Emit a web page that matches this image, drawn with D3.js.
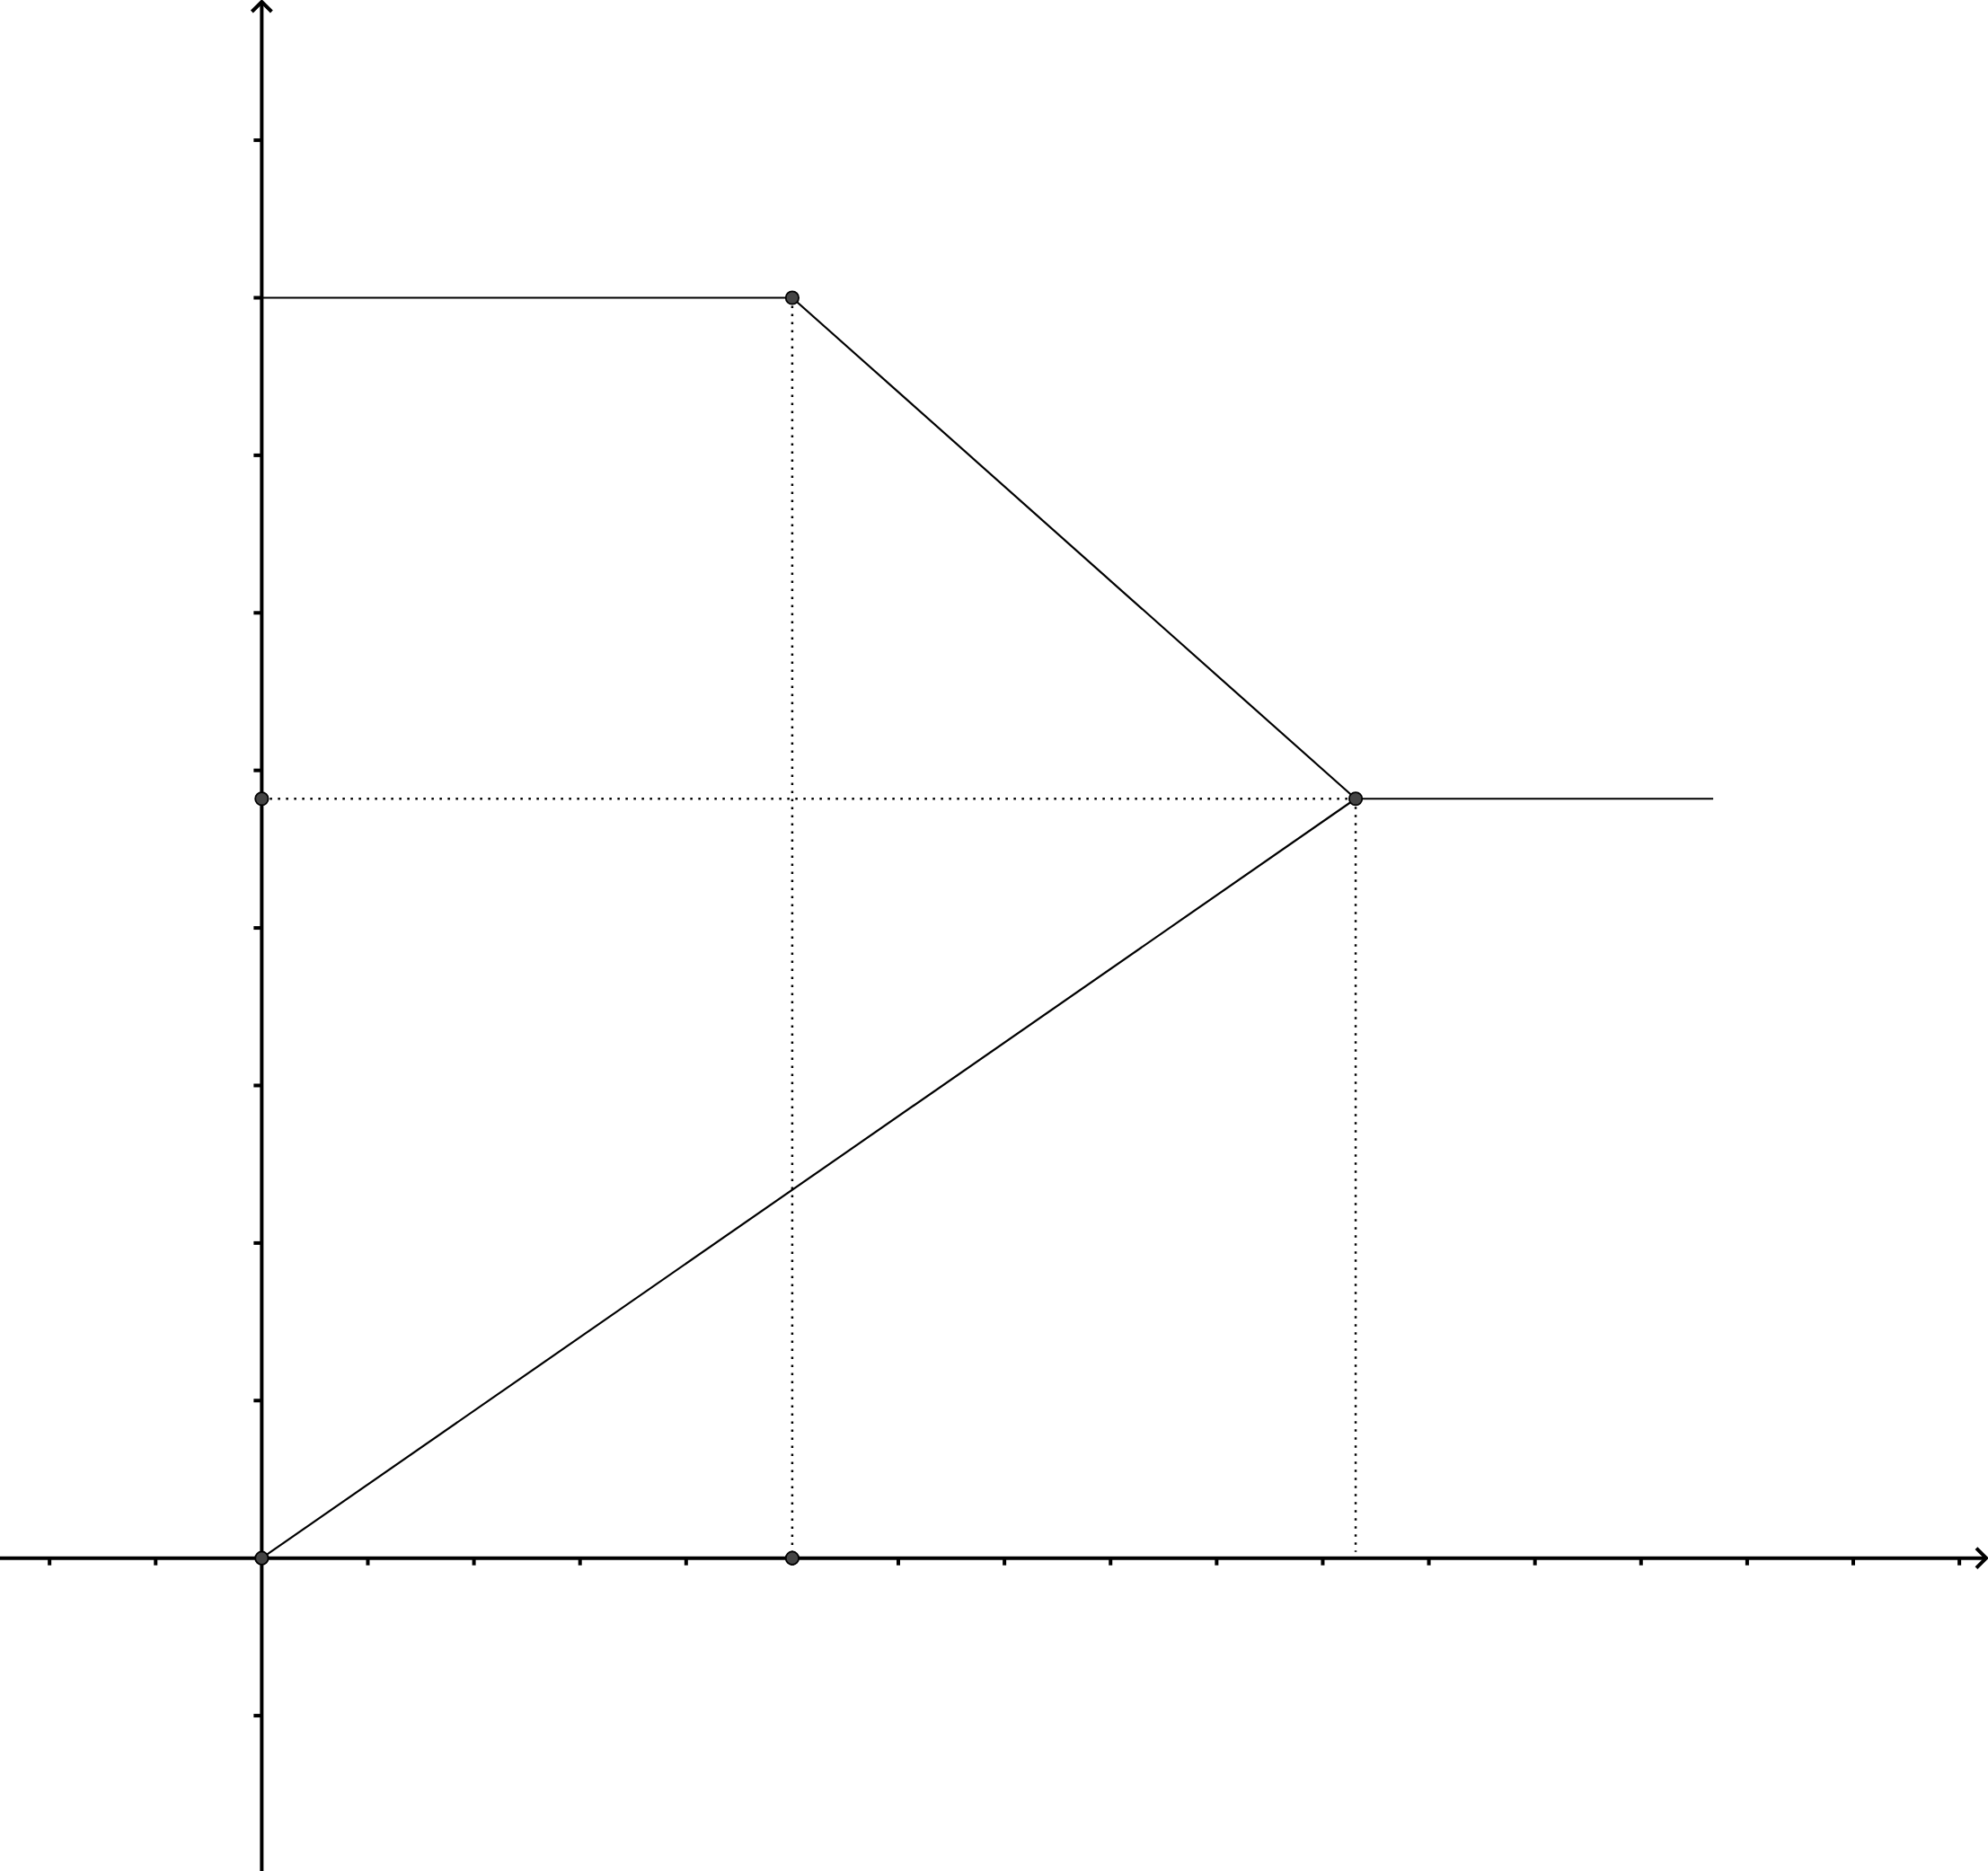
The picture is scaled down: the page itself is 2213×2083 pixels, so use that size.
<!DOCTYPE html>
<html lang="en">
<head>
    <meta charset="UTF-8">
    <title>Kinked curve</title>
    <script src="https://d3js.org/d3.v7.min.js"></script>
    <style>
        body { margin: 0; background: #fff; }
        .axis-line { stroke: #000; stroke-width: 4; fill: none; }
        .tick { stroke: #000; stroke-width: 4; }
        .curve { stroke: #000; stroke-width: 2.2; fill: none; }
        .guide { stroke: #000; stroke-width: 2.5; stroke-dasharray: 2.5 6.5; fill: none; }
        .pt { fill: #444; stroke: #000; stroke-width: 1.8; }
    </style>
</head>
<body>
<svg id="chart" width="2213" height="2083"></svg>
<script>
    // view window in data units
    const xRange = [-2.467, 16.27];
    const yRange = [-1.986, 9.89];

    // tick values (0 sits on the other axis)
    const xTicks = d3.range(-2, 17).filter(d => d !== 0);
    const yTicks = d3.range(-1, 10).filter(d => d !== 0);

    // the solid curve pieces: [x0, y0, x1, y1]
    const curveX0 = [0, 5, 10.31, 0];
    const curveY0 = [8, 8, 4.82, 0];
    const curveX1 = [5, 10.31, 13.68, 10.31];
    const curveY1 = [8, 4.82, 4.82, 4.82];

    // dotted guides
    const guideX0 = [5, 0, 10.31];
    const guideY0 = [8, 4.82, 4.82];
    const guideX1 = [5, 10.31, 10.31];
    const guideY1 = [0, 4.82, 0.04];

    // marked points
    const pointX = [0, 5, 10.31, 0, 5];
    const pointY = [0, 8, 4.82, 4.82, 0];

    const width = 2213, height = 2083;
    const svg = d3.select("#chart");

    const x = d3.scaleLinear().domain(xRange).range([0, width]);
    const y = d3.scaleLinear().domain(yRange).range([height, 0]);

    // guides first so the points sit on top
    svg.selectAll(".guide")
        .data(guideX0.map((d, i) => i))
        .enter().append("line")
        .attr("class", "guide")
        .attr("x1", i => x(guideX0[i]))
        .attr("y1", i => y(guideY0[i]))
        .attr("x2", i => x(guideX1[i]))
        .attr("y2", i => y(guideY1[i]));

    // axes
    svg.append("line").attr("class", "axis-line")
        .attr("x1", 0).attr("x2", width - 2)
        .attr("y1", y(0)).attr("y2", y(0));
    svg.append("line").attr("class", "axis-line")
        .attr("x1", x(0)).attr("x2", x(0))
        .attr("y1", 2).attr("y2", height);

    // arrowheads
    svg.append("path").attr("class", "axis-line")
        .attr("d", `M${width - 13},${y(0) - 11}L${width - 2},${y(0)}L${width - 13},${y(0) + 11}`);
    svg.append("path").attr("class", "axis-line")
        .attr("d", `M${x(0) - 11},${13}L${x(0)},${2}L${x(0) + 11},${13}`);

    // ticks
    svg.selectAll(".xtick")
        .data(xTicks)
        .enter().append("line")
        .attr("class", "tick")
        .attr("x1", d => x(d)).attr("x2", d => x(d))
        .attr("y1", y(0)).attr("y2", y(0) + 8);
    svg.selectAll(".ytick")
        .data(yTicks)
        .enter().append("line")
        .attr("class", "tick")
        .attr("x1", x(0) - 9).attr("x2", x(0))
        .attr("y1", d => y(d)).attr("y2", d => y(d));

    // curve
    svg.selectAll(".curve")
        .data(curveX0.map((d, i) => i))
        .enter().append("line")
        .attr("class", "curve")
        .attr("x1", i => x(curveX0[i]))
        .attr("y1", i => y(curveY0[i]))
        .attr("x2", i => x(curveX1[i]))
        .attr("y2", i => y(curveY1[i]));

    // points
    svg.selectAll(".pt")
        .data(pointX.map((d, i) => i))
        .enter().append("circle")
        .attr("class", "pt")
        .attr("cx", i => x(pointX[i]))
        .attr("cy", i => y(pointY[i]))
        .attr("r", 7.2);
</script>
</body>
</html>
